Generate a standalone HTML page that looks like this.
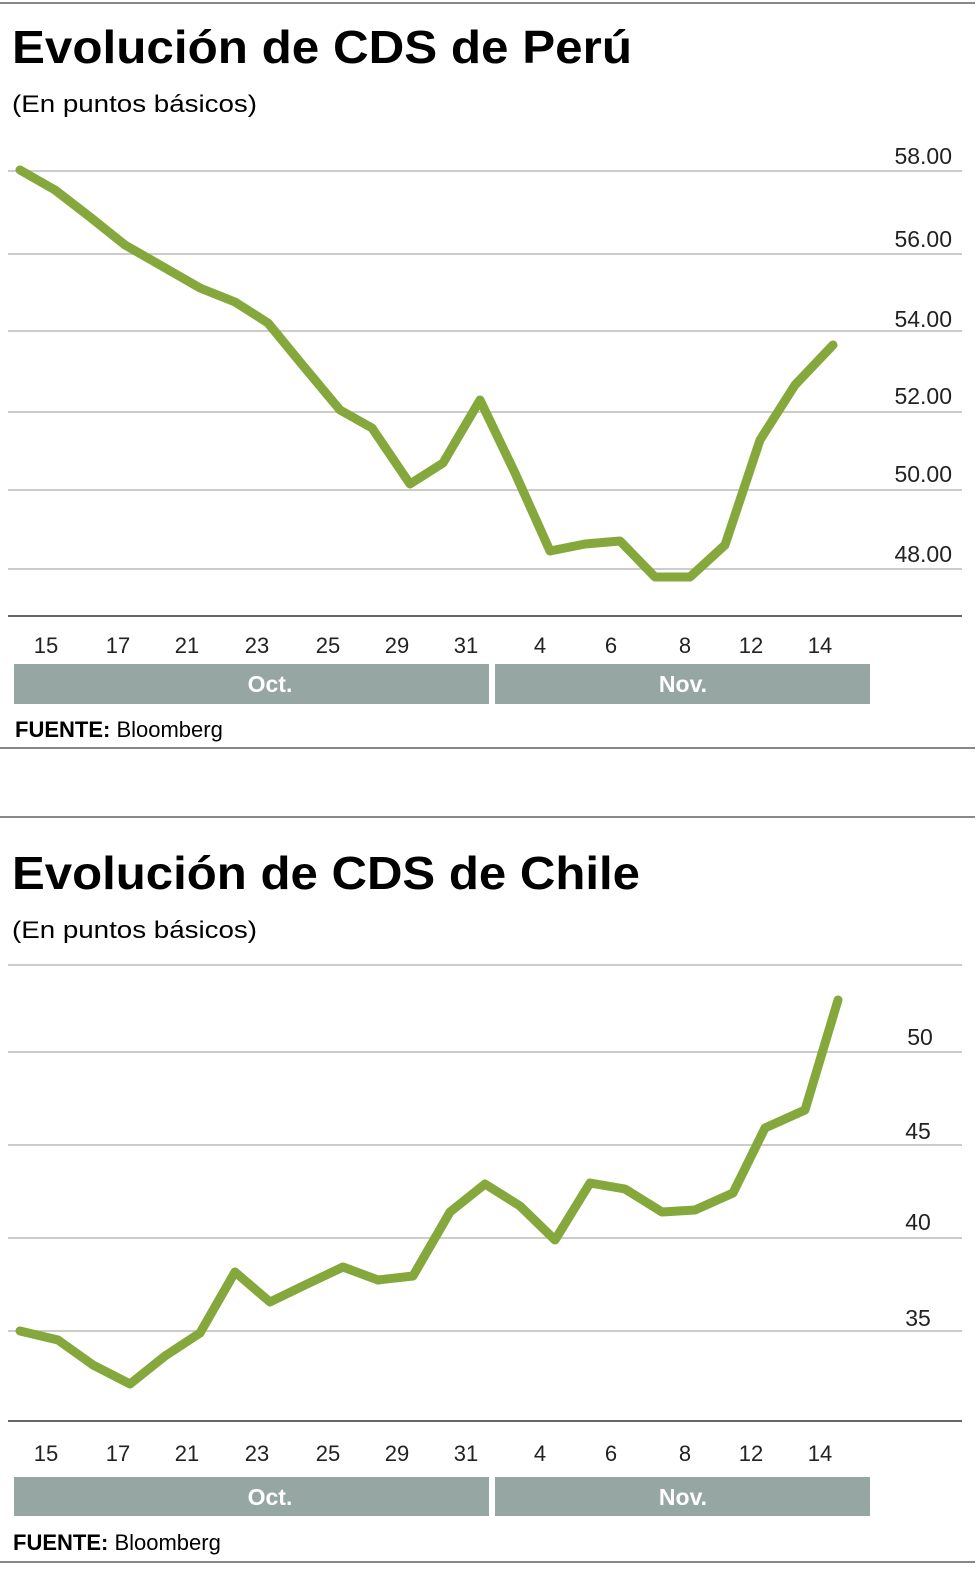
<!DOCTYPE html>
<html><head><meta charset="utf-8"><style>
html,body{margin:0;padding:0;background:#fff}
svg{display:block}
text{font-family:"Liberation Sans",sans-serif}
</style></head><body>
<svg width="980" height="1569" viewBox="0 0 980 1569" xmlns="http://www.w3.org/2000/svg">
<g stroke="#888" stroke-width="2">
<line x1="0" y1="3" x2="975" y2="3"/>
<line x1="0" y1="748" x2="975" y2="748"/>
<line x1="0" y1="817" x2="975" y2="817"/>
<line x1="0" y1="1562" x2="975" y2="1562"/>
</g>
<!-- Peru -->
<text x="12" y="63" font-size="46" font-weight="bold" textLength="620" lengthAdjust="spacingAndGlyphs">Evolución de CDS de Perú</text>
<text x="12" y="112" font-size="24" textLength="245" lengthAdjust="spacingAndGlyphs">(En puntos básicos)</text>
<g stroke="#bbb" stroke-width="1.5">
<line x1="8" y1="171" x2="962" y2="171"/><line x1="8" y1="254" x2="962" y2="254"/>
<line x1="8" y1="331" x2="962" y2="331"/><line x1="8" y1="412" x2="962" y2="412"/>
<line x1="8" y1="490" x2="962" y2="490"/><line x1="8" y1="569" x2="962" y2="569"/>
</g>
<line x1="8" y1="616" x2="962" y2="616" stroke="#666" stroke-width="2"/>
<g font-size="23" text-anchor="end" fill="#222">
<text x="952" y="164">58.00</text><text x="952" y="247">56.00</text><text x="952" y="327">54.00</text>
<text x="952" y="404">52.00</text><text x="952" y="482">50.00</text><text x="952" y="562">48.00</text>
</g>
<polyline fill="none" stroke="#85a83c" stroke-width="9" stroke-linejoin="round" stroke-linecap="round" points="20,170 55,190 90,217 125,245 160,265 200,288 235,302 268,323 300,362 340,410 372,428 410,484 443,463 480,400 515,473 550,551 585,544 620,541 655,577 690,577 725,545 760,440 795,385 833,345"/>
<g font-size="22" text-anchor="middle" fill="#222">
<text x="46" y="653">15</text><text x="118" y="653">17</text><text x="187" y="653">21</text><text x="257" y="653">23</text><text x="328" y="653">25</text><text x="397" y="653">29</text><text x="466" y="653">31</text><text x="540" y="653">4</text><text x="611" y="653">6</text><text x="685" y="653">8</text><text x="751" y="653">12</text><text x="820" y="653">14</text>
</g>
<rect x="14" y="664" width="475" height="40" fill="#96a6a3"/><rect x="495" y="664" width="375" height="40" fill="#96a6a3"/>
<text x="270" y="692" font-size="23" font-weight="bold" fill="#fff" text-anchor="middle">Oct.</text>
<text x="683" y="692" font-size="23" font-weight="bold" fill="#fff" text-anchor="middle">Nov.</text>
<text x="15" y="737" font-size="22"><tspan font-weight="bold">FUENTE:</tspan> Bloomberg</text>
<!-- Chile -->
<text x="12" y="889" font-size="46" font-weight="bold" textLength="628" lengthAdjust="spacingAndGlyphs">Evolución de CDS de Chile</text>
<text x="12" y="938" font-size="24" textLength="245" lengthAdjust="spacingAndGlyphs">(En puntos básicos)</text>
<g stroke="#bbb" stroke-width="1.5">
<line x1="8" y1="965" x2="962" y2="965"/><line x1="8" y1="1052" x2="962" y2="1052"/>
<line x1="8" y1="1145" x2="962" y2="1145"/><line x1="8" y1="1238" x2="962" y2="1238"/>
<line x1="8" y1="1331" x2="962" y2="1331"/>
</g>
<line x1="8" y1="1421" x2="962" y2="1421" stroke="#666" stroke-width="2"/>
<g font-size="23" text-anchor="middle" fill="#222">
<text x="920" y="1045">50</text><text x="918" y="1139">45</text><text x="918" y="1230">40</text><text x="918" y="1326">35</text>
</g>
<polyline fill="none" stroke="#85a83c" stroke-width="9" stroke-linejoin="round" stroke-linecap="round" points="20,1331 58,1340 93,1365 130,1384 165,1356 200,1333 235,1272 270,1302 305,1285 343,1267 378,1280 413,1276 450,1212 485,1184 520,1206 555,1240 590,1183 625,1189 662,1212 695,1210 733,1193 765,1128 805,1110 838,1000"/>
<g font-size="22" text-anchor="middle" fill="#222">
<text x="46" y="1461">15</text><text x="118" y="1461">17</text><text x="187" y="1461">21</text><text x="257" y="1461">23</text><text x="328" y="1461">25</text><text x="397" y="1461">29</text><text x="466" y="1461">31</text><text x="540" y="1461">4</text><text x="611" y="1461">6</text><text x="685" y="1461">8</text><text x="751" y="1461">12</text><text x="820" y="1461">14</text>
</g>
<rect x="14" y="1477" width="475" height="39" fill="#96a6a3"/><rect x="495" y="1477" width="375" height="39" fill="#96a6a3"/>
<text x="270" y="1505" font-size="23" font-weight="bold" fill="#fff" text-anchor="middle">Oct.</text>
<text x="683" y="1505" font-size="23" font-weight="bold" fill="#fff" text-anchor="middle">Nov.</text>
<text x="13" y="1550" font-size="22"><tspan font-weight="bold">FUENTE:</tspan> Bloomberg</text>
</svg>
</body></html>
